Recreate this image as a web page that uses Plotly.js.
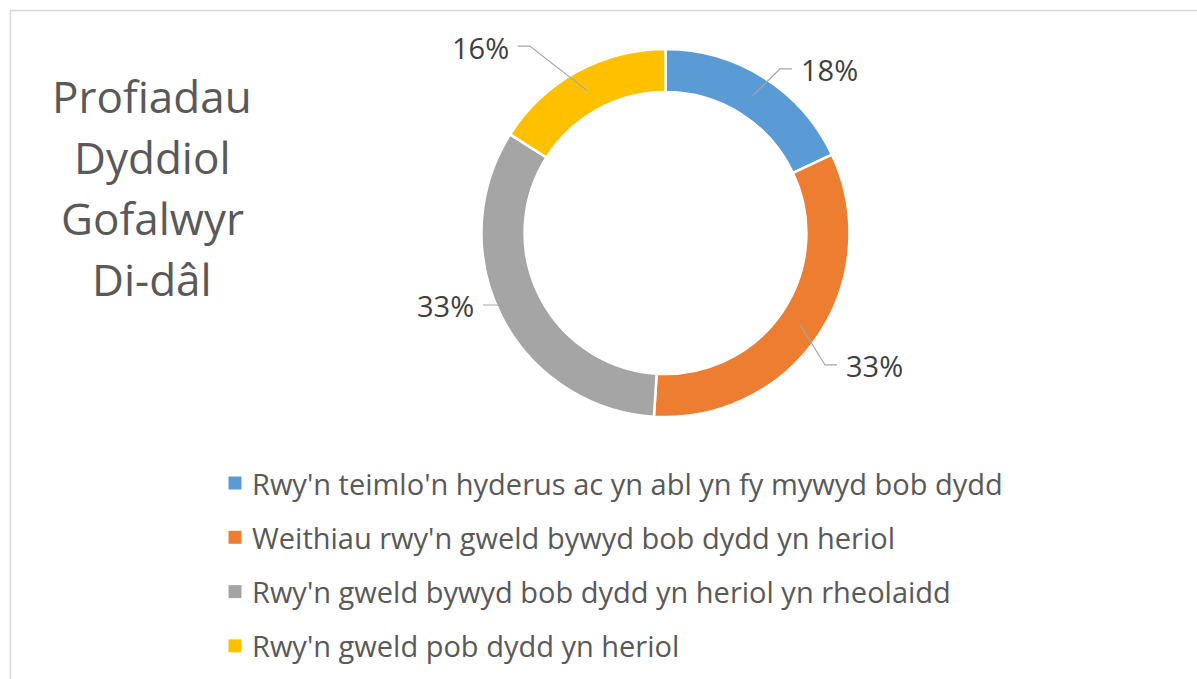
<!DOCTYPE html>
<html>
<head>
<meta charset="utf-8">
<script src="https://cdn.plot.ly/plotly-3.0.1.min.js"></script>
<style>
  html, body { margin: 0; padding: 0; background: #ffffff; }
  #chart { width: 1197px; height: 679px; }
</style>
</head>
<body>
<div id="chart"></div>
<script>
// ---- data ----
const categories = [
  "Rwy'n teimlo'n hyderus ac yn abl yn fy mywyd bob dydd",
  "Weithiau rwy'n gweld bywyd bob dydd yn heriol",
  "Rwy'n gweld bywyd bob dydd yn heriol yn rheolaidd",
  "Rwy'n gweld pob dydd yn heriol"
];
const values = [18, 33, 33, 16];
const titleLines = ["Profiadau", "Dyddiol", "Gofalwyr", "Di-dâl"];

// ---- style ----
const colors = ["#5B9BD5", "#ED7D31", "#A5A5A5", "#FFC000"];
const FONT = "Open Sans, Liberation Sans, Arial, sans-serif";
const W = 1197, H = 679;
const cx = 665.5, cy = 233, R = 184, holeFrac = 0.766;
// label placement (layout only): angle shift of the elbow (deg), elbow radius (px)
const labelAngleShift = [2.5, 5.4, 4.1, -7.2];
const labelElbowR = [200, 207, 185, 231];

const px = x => x / W;
const py = y => 1 - y / H;

const total = values.reduce((a, b) => a + b, 0);

const trace = {
  type: 'pie',
  labels: categories,
  values: values,
  sort: false,
  direction: 'clockwise',
  rotation: 0,
  hole: holeFrac,
  textinfo: 'none',
  hoverinfo: 'label+percent',
  marker: { colors: colors, line: { color: '#ffffff', width: 2.5 } },
  domain: { x: [px(cx - R), px(cx + R)], y: [py(cy + R), py(cy - R)] },
  showlegend: false
};

const annotations = [];
const shapes = [];

// border
shapes.push({
  type: 'rect', xref: 'paper', yref: 'paper',
  x0: px(10.5), x1: px(1215), y0: py(700), y1: py(10.5),
  line: { color: '#d9d9d9', width: 1.5 }, fillcolor: 'rgba(0,0,0,0)'
});

// title lines
const titleBaseY = 96, titleStep = 61;
titleLines.forEach((t, i) => {
  annotations.push({
    xref: 'paper', yref: 'paper', x: px(152), y: py(titleBaseY + i * titleStep),
    xanchor: 'center', yanchor: 'middle', showarrow: false,
    text: t, font: { family: FONT, size: 44, color: '#595959' }
  });
});

// data labels with leader lines
let cum = 0;
const rMid = R * (1 + holeFrac) / 2;
values.forEach((v, i) => {
  const midDeg = (cum + v / 2) / total * 360;
  cum += v;
  const a0 = midDeg * Math.PI / 180;
  const sx = cx + rMid * Math.sin(a0), sy = cy - rMid * Math.cos(a0);
  const a1 = (midDeg + labelAngleShift[i]) * Math.PI / 180;
  const ex = cx + labelElbowR[i] * Math.sin(a1), ey = cy - labelElbowR[i] * Math.cos(a1);
  const right = Math.sin(a1) > 0;
  const hx = ex + (right ? 12 : -12);
  shapes.push({
    type: 'path', xref: 'paper', yref: 'paper',
    path: `M ${px(sx)} ${py(sy)} L ${px(ex)} ${py(ey)} L ${px(hx)} ${py(ey)}`,
    line: { color: '#a6a6a6', width: 1.2 }
  });
  const pct = Math.round(v / total * 100) + '%';
  annotations.push({
    xref: 'paper', yref: 'paper', x: px(hx + (right ? 7 : -7)), y: py(ey + 1),
    xanchor: right ? 'left' : 'right', yanchor: 'middle', showarrow: false,
    text: pct, font: { family: FONT, size: 29, color: '#404040' }
  });
});

// legend (built from categories and colors)
const legTop = 483, legStep = 54.3;
categories.forEach((c, i) => {
  const yc = legTop + i * legStep;
  shapes.push({
    type: 'rect', xref: 'paper', yref: 'paper',
    x0: px(228.5), x1: px(241.5), y0: py(yc + 6.5), y1: py(yc - 6.5),
    fillcolor: colors[i], line: { width: 0 }
  });
  annotations.push({
    xref: 'paper', yref: 'paper', x: px(250), y: py(yc),
    xanchor: 'left', yanchor: 'middle', showarrow: false,
    text: c, font: { family: FONT, size: 29, color: '#595959' }
  });
});

const layout = {
  width: W, height: H,
  margin: { l: 0, r: 0, t: 0, b: 0 },
  paper_bgcolor: '#ffffff',
  plot_bgcolor: '#ffffff',
  showlegend: false,
  shapes: shapes,
  annotations: annotations
};

Plotly.newPlot('chart', [trace], layout, { displayModeBar: false, staticPlot: true });
</script>
</body>
</html>
